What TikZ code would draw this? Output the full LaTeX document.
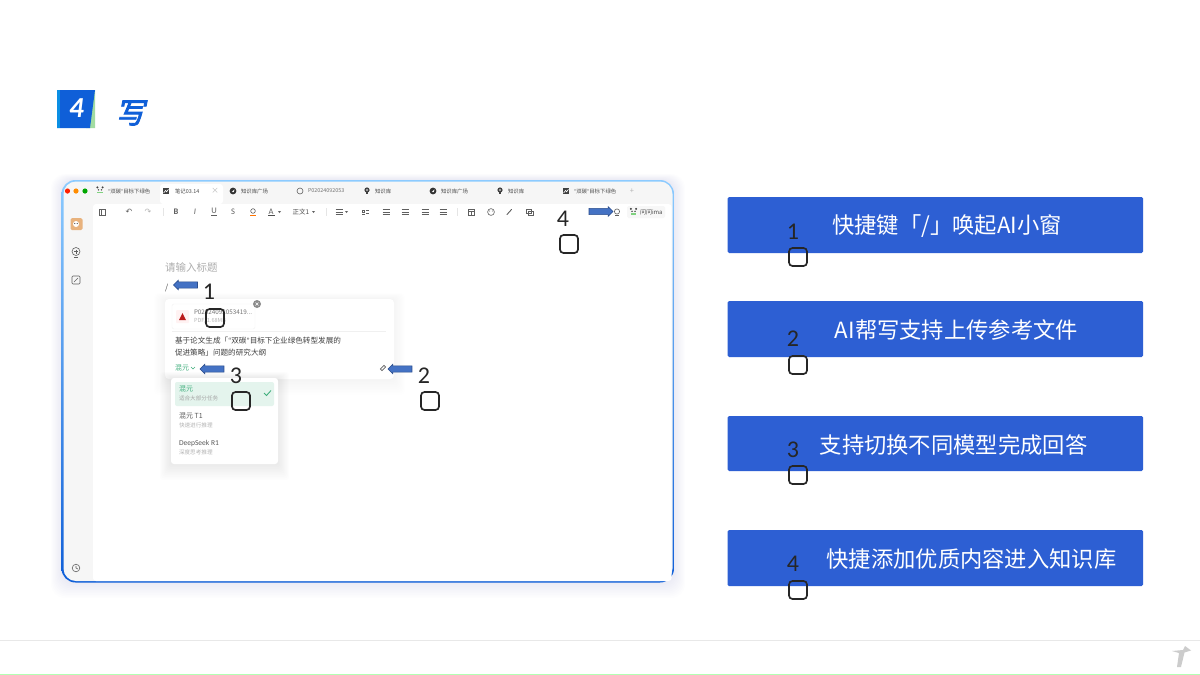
\documentclass[tikz,border=0pt]{standalone}
\usepackage{fontspec}
\setmainfont{Noto Sans CJK SC}
\newfontfamily\cjkslant[FakeSlant=0.2,FakeBold=3]{Noto Sans CJK SC}
\newfontfamily\numfont{Carlito}
\newfontfamily\symfont{DejaVu Sans}
\usetikzlibrary{shapes.arrows,shapes.geometric}
\definecolor{boxblue}{HTML}{2D5FD3}
\definecolor{arrowblue}{HTML}{4472C4}
\definecolor{arrowedge}{HTML}{2B4D8C}
\definecolor{tealtext}{HTML}{3FAE7C}
\definecolor{icongray}{HTML}{5F5F5F}
\definecolor{subgray}{HTML}{B5B5B5}
\definecolor{headblue}{HTML}{0F5FD8}
\definecolor{paneGray}{HTML}{F6F6F6}
\newcommand{\oq}{{\numfont “}}
\newcommand{\cq}{{\numfont ”}}
\tikzset{
 x=1pt,y=-1pt,
 every node/.style={inner sep=0pt,outer sep=0pt},
 feature/.style={fill=boxblue,rounded corners=1.5pt,minimum width=415.5pt,anchor=north west},
 featuretext/.style={text=white,font=\fontsize{22.3}{24}\selectfont},
 marker/.style={draw=black!85,line width=1.7pt,rounded corners=3.5pt,minimum width=18pt,minimum height=18pt},
 digit/.style={font=\numfont\fontsize{24}{24}\selectfont,text=black!85},
 pointer/.style={shape=single arrow,draw=arrowedge,fill=arrowblue,line width=.6pt,inner sep=2.6pt,minimum width=9.5pt,minimum height=24pt,single arrow head extend=1.6pt},
 tabtext/.style={anchor=west,font=\fontsize{5.4}{6}\selectfont,text=black!70},
 tool/.style={font=\fontsize{7.5}{8}\selectfont,text=icongray},
 icon/.style={draw=icongray,line width=.6pt},
 cardtext/.style={anchor=west,font=\fontsize{7.6}{9}\selectfont,text=black!75},
 subtext/.style={anchor=west,font=\fontsize{5.6}{6}\selectfont,text=subgray},
 itemtext/.style={anchor=west,font=\fontsize{7}{8}\selectfont,text=black!65},
}
\newcommand{\softshadow}[6]{%
 \foreach \g in {1,2,...,10}{
  \fill[#6,rounded corners=#5pt] (#1-\g*1.1,#2-\g*.6) rectangle (#3+\g*1.1,#4+\g*1.6);
 }}
\newcommand{\panda}[1]{%
 \fill[black!75] (#1)+(-2.6,-2.6) circle (1.1) +(2.6,-2.6) circle (1.1) +(-1.5,-.2) circle (.8) +(1.5,-.2) circle (.8);
 \fill[green!65!black!50] (#1)+(-2.6,1.6) rectangle +(2.6,3);}
\newcommand{\bulb}[1]{\fill[black!75] (#1) circle (2.6); \fill[black!75] (#1)+(-1.2,2) rectangle +(1.2,3.6); \fill[white] (#1) circle (.9);}
\newcommand{\disc}[1]{\fill[black!80] (#1) circle (3.4); \fill[white] (#1)+(-1.2,.9) -- +(1.6,-1.5) -- +(.6,1.2) -- cycle;}
\newcommand{\imgicon}[1]{\fill[black!75] (#1)+(-3.2,-3.2) rectangle +(3.2,3.2); \draw[white,line width=.6pt] (#1)+(-2.4,2) -- +(-.4,-.6) -- +(.6,.8) -- +(2.4,-1.6);}
\begin{document}
\begin{tikzpicture}
\useasboundingbox (0,0) rectangle (1200,675);
\fill[white] (0,0) rectangle (1200,675);
% heading
\fill[green!45!gray!50] (88,90) -- (95,90) -- (95,128) -- (86,128) -- cycle;
\fill[headblue] (57,90) -- (95,90) -- (90,128) -- (57,128) -- cycle;
\fill[headblue!70!cyan] (57,90) rectangle (60,128);
\node[text=white,font=\numfont\bfseries\itshape\fontsize{29}{29}\selectfont] (headnum) at (76.5,108.5) {4};
\node[text=headblue,font=\cjkslant\fontsize{29}{29}\selectfont] (headchar) at (130.5,113) {写};
% window
\softshadow{62}{180}{674}{582}{14}{boxblue,opacity=.008}
\shade[top color=blue!45!cyan!45!white,bottom color=headblue,rounded corners=14pt] (61.5,180) rectangle (674,582.5);
\fill[paneGray,rounded corners=12.5pt] (63.5,181.5) rectangle (672.5,581);
\fill[white,rounded corners=3pt] (93,204) rectangle (671.5,581);
\fill[white,rounded corners=3pt] (160,184) rectangle (223,204);
% window dots
\fill[red!75!orange] (67.5,191) circle (2.6);
\fill[orange!90!yellow] (76,191) circle (2.6);
\fill[green!65!black] (85,191) circle (2.6);
% tabs
\panda{100,190}
\node[tabtext] (t1) at (108,191) {\oq 双碳\cq 目标下绿色};
\imgicon{166,191}
\node[tabtext] (t2) at (175,191) {笔记03.14};
\node[tool,text=subgray] (t2x) at (215,191) {×};
\disc{233,191}
\node[tabtext] (t3) at (241,191) {知识库广场};
\draw[icon] (300,191) circle (3);
\node[tabtext,text=black!55] (t4) at (308,191) {P02024092053};
\bulb{367,190}
\node[tabtext] (t5) at (375,191) {知识库};
\disc{433,191}
\node[tabtext] (t6) at (441,191) {知识库广场};
\bulb{500,190}
\node[tabtext] (t7) at (508,191) {知识库};
\imgicon{566,191}
\node[tabtext] (t8) at (574,191) {\oq 双碳\cq 目标下绿色};
\node[tool,text=subgray] (tplus) at (632,191) {+};
% sidebar
\fill[brown!60!orange!60,rounded corners=1.5pt] (70.5,218) rectangle (82.5,230);
\fill[white] (76,224) circle (3);
\fill[black!70] (74.8,223.5) circle (.6) (77.2,223.5) circle (.6);
\draw[icon] (76,251.5) circle (4);
\draw[icon] (74,257.5) -- (78,257.5);
\draw[icon] (74,251.5) -- (78,251.5) (76,249.5) -- (76,253.5);
\draw[icon,rounded corners=1pt] (72,276) rectangle (80,284);
\draw[icon] (74,282) -- (78,278);
\draw[icon] (76,568) circle (3.8);
\draw[icon] (76,565.8) -- (76,568) -- (77.8,569);
% toolbar
\draw[icon,line width=.8pt] (99,209) rectangle (105.5,215.5);
\draw[icon] (101,209) -- (101,215.5);
\node[tool,font=\symfont\fontsize{8}{8}\selectfont] (tbUndo) at (129,212) {↶};
\node[tool,text=subgray,font=\symfont\fontsize{8}{8}\selectfont] (tbRedo) at (148,212) {↷};
\draw[black!10,line width=.5pt] (163,208) -- (163,216);
\node[tool,font=\numfont\bfseries\fontsize{8.5}{9}\selectfont] (tbB) at (176,212) {B};
\node[tool,font=\numfont\itshape\fontsize{8.5}{9}\selectfont] (tbI) at (195,212) {I};
\node[tool,font=\numfont\fontsize{8.5}{9}\selectfont] (tbU) at (214,212) {\underline{U}};
\node[tool,font=\numfont\fontsize{8.5}{9}\selectfont] (tbS) at (233,212) {S};
\draw[icon] (253,211) circle (2.3);
\draw[orange!90!red,line width=.9pt] (250,215.5) -- (256,215.5);
\node[tool,font=\numfont\fontsize{8.5}{9}\selectfont] (tbA) at (271,211.5) {A};
\draw[black!70,line width=.8pt] (268,215.7) -- (274.5,215.7);
\fill[icongray] (278,211) -- (281,211) -- (279.5,213) -- cycle;
\node[tool,font=\fontsize{6.5}{7}\selectfont,text=black!70] (tbStyle) at (301,212) {正文1};
\fill[icongray] (312,211) -- (315,211) -- (313.5,213) -- cycle;
\draw[black!10,line width=.5pt] (326,208) -- (326,216);
\foreach \xx in {339,386,405,425,443}{
 \draw[icon,line width=.5pt] (\xx-3.5,209.5) -- (\xx+3.5,209.5) (\xx-3.5,212) -- (\xx+3.5,212) (\xx-3.5,214.5) -- (\xx+3.5,214.5);
}
\fill[icongray] (345,211) -- (348,211) -- (346.5,213) -- cycle;
\draw[icon,line width=.5pt] (362,210) rectangle (364,212) (366,210.5) -- (369,210.5) (362,214) -- (365,214) (366,213.5) -- (369,213.5);
\draw[black!10,line width=.5pt] (457,208) -- (457,216);
\draw[icon] (468,209) rectangle (474.5,215.5) (468,211) -- (474.5,211) (471,211) -- (471,215.5);
\draw[icon] (491,212) circle (3.4);
\fill[icongray] (489.7,211) circle (.5) (492.3,211) circle (.5);
\draw[icon,line width=.9pt,line cap=round] (507,214.5) -- (511.5,209.5);
\draw[icon] (526,209) rectangle (531,213.5);
\draw[icon] (528,211.5) rectangle (533,215.5);
\draw[icon] (617,211.5) circle (2.6);
\draw[icon] (615,215.5) -- (619,215.5);
\fill[black!3,rounded corners=1.5pt] (627,206) rectangle (665,218);
\panda{633.5,211.5}
\node[tabtext,text=black!70,font=\fontsize{6}{6}\selectfont] (askIma) at (640,212) {问问ima};
% editor
\node[anchor=west,font=\fontsize{10.5}{11}\selectfont,text=black!32] (docTitle) at (165,267.5) {请输入标题};
\node[anchor=west,font=\fontsize{8}{9}\selectfont,text=black!70] (slash) at (165,288) {/};
% prompt card
\softshadow{165}{299}{394}{379}{4}{black,opacity=.005}
\fill[white,rounded corners=4pt] (165,299) rectangle (394,379);
\draw[black!5,rounded corners=2pt,fill=white] (172,304) rectangle (255,329);
\fill[red!5,rounded corners=1pt] (176,310) rectangle (189,323);
\fill[red!70!black!90] (182.5,313) -- (186,320) -- (179,320) -- cycle;
\node[anchor=west,font=\fontsize{6.3}{7}\selectfont,text=black!55] (pdfName) at (194,312.5) {P02024092053419...};
\node[subtext] (pdfMeta) at (194,321) {PDF, 1.68MB};
\fill[black!45] (257,304) circle (4);
\draw[white,line width=.6pt] (255.5,302.5) -- (258.5,305.5) (255.5,305.5) -- (258.5,302.5);
\draw[black!6,line width=.6pt] (172,331) -- (386,331);
\node[cardtext] (prompt1) at (175,340.5) {基于论文生成「\oq 双碳\cq 目标下企业绿色转型发展的};
\node[cardtext] (prompt2) at (175,352.5) {促进策略」问题的研究大纲};
\node[anchor=west,font=\fontsize{7}{8}\selectfont,text=tealtext] (modelSel) at (175,368) {混元};
\draw[tealtext,line width=.6pt] (191,367) -- (193,369) -- (195,367);
\draw[icon,line width=.7pt,rotate around={-45:(383,368)}] (381.8,365.5) rectangle (384.2,370.5);
% model dropdown
\softshadow{171}{378}{278}{464}{3}{black,opacity=.007}
\fill[white,rounded corners=3pt] (171,378) rectangle (278,464);
\fill[tealtext!14,rounded corners=2pt] (175,382) rectangle (274,406);
\node[itemtext,text=tealtext] (m1) at (179,389) {混元};
\node[subtext,text=black!35] (m1s) at (179,398.5) {适合大部分任务};
\draw[tealtext,line width=.9pt] (264,393) -- (266.5,395.5) -- (271,390.5);
\node[itemtext] (m2) at (179,416) {混元 T1};
\node[subtext] (m2s) at (179,425.5) {快速进行推理};
\node[itemtext,font=\numfont\fontsize{7.5}{8}\selectfont] (m3) at (179,443) {DeepSeek R1};
\node[subtext] (m3s) at (179,452.5) {深度思考推理};
% pointers
\node[pointer,shape border rotate=180] (arr1) at (187,285) {};
\node[pointer,shape border rotate=180] (arr2) at (401.5,369) {};
\node[pointer,shape border rotate=180] (arr3) at (213.5,369) {};
\node[pointer] (arr4) at (599.5,211.5) {};
% screenshot markers
\node[digit] (d1) at (209,292) {1};
\node[marker] (s1) at (215,318) {};
\node[digit] (d2) at (424,375.5) {2};
\node[marker] (s2) at (430,401) {};
\node[digit] (d3) at (236,375.5) {3};
\node[marker] (s3) at (241,401) {};
\node[digit] (d4) at (563,218.5) {4};
\node[marker] (s4) at (569,244) {};
% feature bars
\node[feature,minimum height=56pt] (f1) at (727.5,197) {};
\node[feature,minimum height=56pt] (f2) at (727.5,301) {};
\node[feature,minimum height=55pt] (f3) at (727.5,416) {};
\node[feature,minimum height=56pt] (f4) at (727.5,530) {};
\node[featuretext] (l1) at (947,226) {快捷键「/」唤起AI小窗};
\node[featuretext] (l2) at (956.5,330) {AI帮写支持上传参考文件};
\node[featuretext] (l3) at (953.5,444.5) {支持切换不同模型完成回答};
\node[featuretext] (l4) at (971.5,558.5) {快捷添加优质内容进入知识库};
% bar markers
\node[digit] (e1) at (793,231.5) {1};
\node[marker] (b1) at (798,257) {};
\node[digit] (e2) at (793,339) {2};
\node[marker] (b2) at (798,365) {};
\node[digit] (e3) at (793,449.5) {3};
\node[marker] (b3) at (798,475) {};
\node[digit] (e4) at (793,563.5) {4};
\node[marker] (b4) at (798,590) {};
% footer
\draw[black!9,line width=.8pt] (0,640.5) -- (1200,640.5);
\draw[green!30!white,line width=1pt] (0,674.5) -- (1200,674.5);
\fill[black!20] (1172,651) -- (1183,650) -- (1185,646) -- (1191,650.5) -- (1184.5,652.5) -- (1181,667) -- (1177,667) -- (1179,653) -- cycle;
\end{tikzpicture}
\end{document}
